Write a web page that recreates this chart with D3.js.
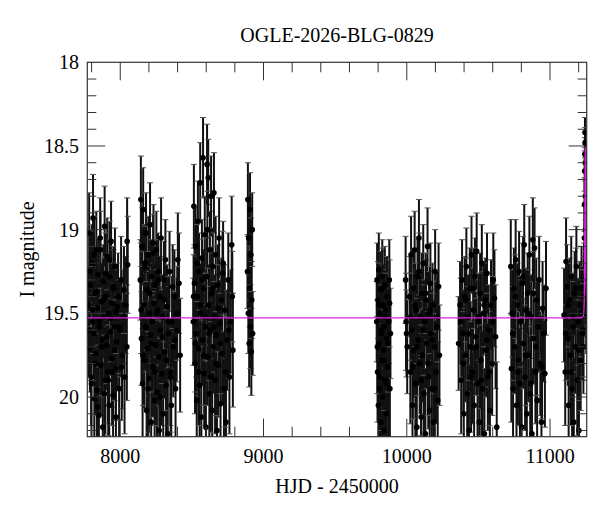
<!DOCTYPE html>
<html><head><meta charset="utf-8">
<script src="https://cdn.jsdelivr.net/npm/d3@7/dist/d3.min.js"></script>
<style>body{margin:0;background:#fff}svg{display:block}text{font-family:"Liberation Serif","Times New Roman",serif;fill:#000}</style>
</head><body><svg id="c" width="600" height="512"></svg>
<script>
const title = "OGLE-2026-BLG-0829";
const xLabel = "HJD - 2450000";
const yLabel = "I magnitude";
const xTicks = [8000, 9000, 10000, 11000];
const yTicks = [18, 18.5, 19, 19.5, 20];
const yTickLabels = ["18", "18.5", "19", "19.5", "20"];

// Observations: HJD-2450000, I mag, error
const hjd = [
7778,7783,7788,7792,7797,7801,7806,7810,7815,7819,7824,7828,7833,7837,7842,7846,7851,7855,7860,7864,7869,7873,7878,7882,7887,7891,7896,7900,7905,7909,7914,7918,7923,7927,7932,7936,7941,7945,7950,7954,7959,7963,7968,7972,7977,7985,7992,7998,8006,8014,8022,8030,8038,8046,8048,8052,
8140,8144,8148,8152,8156,8160,8164,8168,8172,8176,8180,8184,8188,8192,8196,8200,8204,8208,8212,8216,8220,8224,8228,8232,8236,8240,8244,8248,8252,8256,8260,8264,8268,8272,8276,8280,8285,8290,8295,8300,8305,8310,8315,8320,8326,8332,8338,8344,8350,8356,8362,8370,8378,8386,8394,8402,8410,8418,
8510,8514,8518,8522,8526,8530,8534,8538,8542,8546,8550,8554,8558,8562,8566,8570,8574,8578,8582,8586,8590,8594,8598,8602,8606,8610,8614,8618,8622,8626,8630,8634,8638,8642,8646,8650,8654,8658,8662,8666,8670,8675,8680,8685,8690,8695,8700,8706,8712,8718,8724,8730,8738,8746,8754,8762,8770,8778,8786,
8888,8891,8894,8897,8900,8903,8906,8909,8912,8915,8918,8921,8924,
9790,9793,9796,9799,9802,9805,9808,9811,9814,9817,9820,9823,9826,9829,9832,9835,9838,9841,9844,9847,9850,9853,9856,9859,9862,9866,9870,9874,9878,9882,9886,
9992,9995,9998,10003,10020,10025,10030,10035,10040,10045,10050,10055,10060,10065,10070,10075,10080,10085,10090,10095,10100,10105,10110,10115,10120,10125,10130,10135,10140,10145,10150,10155,10160,10165,10170,10175,10180,10186,10192,10198,10204,10210,10216,10222,10228,
10362,10372,10380,10386,10392,10398,10404,10410,10416,10422,10428,10434,10440,10446,10452,10458,10464,10470,10476,10482,10488,10494,10500,10506,10512,10518,10524,10530,10536,10542,10548,10554,10560,10566,10572,10580,10588,10596,10604,10612,10620,10628,
10726,10730,10736,10742,10748,10754,10760,10766,10772,10778,10784,10790,10796,10802,10808,10814,10820,10826,10832,10838,10844,10850,10856,10862,10868,10874,10880,10886,10892,10898,10904,10910,10916,10924,10932,10940,10948,10956,10964,10972,
11098,11106,11112,11118,11124,11130,11136,11142,11148,11154,11160,11166,11172,11178,11184,11190,11196,11202,11208,11214,11220,11226,11230,11233,11236,11238,11240,11241,11242,11243,11244,11245,11246,11247,11248,11249,11251,11253,11255,
7781,7790,7799,7808,7817,7826,7835,7844,7853,7862,7871,7880,7889,7898,7907,7916,7925,7934,7943,7952,7961,7970,7980,7995,8010,8026,
8146,8158,8170,8182,8194,8206,8218,8230,8242,8254,8266,8278,8292,8308,8322,8336,8352,8366,8382,8398,
8512,8524,8536,8548,8560,8572,8584,8596,8608,8620,8632,8644,8656,8668,8682,8698,8714,8734,8758,8782,
9795,9804,9813,9822,9831,9840,9849,9858,9868,9880,
10028,10042,10058,10072,10088,10102,10118,10132,10148,10162,10178,10195,10212,
10376,10395,10413,10431,10449,10467,10485,10503,10521,10539,10557,10576,10600,
10740,10758,10776,10794,10812,10830,10848,10866,10884,10902,10920,10944,
11110,11128,11146,11164,11182,11200,11218,11232
];
const mag = [
19.45,19.02,19.71,19.33,19.88,19.20,19.55,18.93,19.62,20.01,19.38,19.74,19.12,19.96,19.47,19.27,20.11,19.58,19.05,19.81,19.43,19.66,20.18,19.31,19.52,18.98,19.90,19.40,19.69,19.16,19.85,19.50,20.05,19.28,19.61,19.07,19.77,19.44,19.99,19.35,19.58,19.22,19.83,19.49,19.67,19.40,19.95,19.60,19.30,19.75,19.52,19.88,19.45,19.70,19.07,19.21,
19.30,18.82,19.65,19.10,19.92,18.88,19.45,19.78,19.20,19.58,19.02,20.08,19.36,19.71,19.15,19.89,19.50,18.97,19.63,20.15,19.28,19.55,19.82,19.08,19.44,20.02,19.33,19.69,19.12,19.97,19.48,19.25,19.76,20.20,19.40,19.60,19.05,19.86,19.52,20.10,19.30,19.73,19.18,19.93,19.46,20.22,19.62,19.25,19.85,20.05,19.55,19.70,19.40,19.95,19.60,19.18,19.32,19.75,
19.55,18.86,19.32,19.80,19.10,19.62,20.02,19.40,18.95,19.71,19.25,19.93,18.72,19.50,20.12,19.17,19.66,18.57,19.35,19.86,19.03,19.58,20.18,19.28,18.61,19.76,18.69,19.45,19.98,19.12,19.60,18.80,19.38,20.08,19.22,19.70,18.78,19.52,19.90,19.15,19.63,20.20,19.33,19.81,19.05,19.56,20.04,19.42,19.74,19.20,19.95,19.48,20.15,19.66,19.30,19.88,19.55,19.09,19.72,
19.25,18.82,19.50,19.05,19.68,19.35,18.88,19.58,19.15,19.73,19.42,19.00,19.62,
19.55,19.30,19.85,19.42,20.05,19.24,19.68,19.95,19.50,19.36,20.15,19.62,19.78,19.28,20.00,19.45,19.72,20.20,19.58,19.33,19.90,19.48,20.10,19.65,19.40,19.82,20.25,19.55,19.30,19.95,19.62,
19.30,19.55,19.62,19.70,19.40,19.85,19.15,19.60,20.05,19.35,19.72,19.12,19.92,19.48,20.18,19.28,19.66,19.05,19.80,19.52,20.12,19.38,19.75,19.20,19.98,19.55,20.22,19.42,19.68,19.10,19.88,19.50,20.08,19.32,19.62,19.95,19.45,20.15,19.70,19.25,19.85,19.58,20.02,19.34,19.75,
19.68,19.45,19.90,19.30,19.62,20.10,19.40,19.75,19.22,19.98,19.52,20.20,19.35,19.70,19.15,19.85,19.48,20.05,19.28,19.64,19.13,19.92,19.55,20.15,19.38,19.78,19.20,19.95,19.50,20.22,19.42,19.72,19.26,19.88,19.60,20.08,19.45,19.80,19.30,19.41,19.64,20.18,
19.22,19.83,19.50,19.95,19.35,19.70,19.18,20.05,19.45,19.78,19.25,19.92,19.55,20.18,19.32,19.68,19.09,19.88,19.48,20.10,19.38,19.75,19.15,19.98,19.52,20.22,19.06,19.65,19.11,19.85,19.42,20.02,19.58,19.30,19.80,20.15,19.47,19.62,19.86,19.35,
19.51,19.85,19.19,19.34,19.65,20.05,19.42,19.75,19.28,19.95,19.52,20.15,19.38,19.70,19.22,19.90,19.55,20.20,19.45,19.78,19.35,19.62,19.48,19.70,19.40,19.30,19.05,18.85,18.65,18.55,18.42,18.48,18.60,18.80,19.00,19.20,19.35,19.50,19.45,
19.60,19.25,19.92,19.48,19.15,19.80,19.37,20.06,19.55,19.12,19.70,19.42,19.98,19.26,19.64,19.90,19.18,19.53,19.85,19.34,19.72,20.12,19.46,19.58,19.82,19.36,
19.48,19.75,19.22,19.58,19.95,19.38,19.68,19.14,19.85,19.50,19.30,20.00,19.64,19.42,19.78,19.55,19.88,19.34,19.66,19.50,
19.40,19.68,19.20,19.85,19.45,19.30,19.75,19.52,19.00,19.62,19.88,19.35,19.58,19.80,19.47,19.68,19.26,19.85,19.60,19.40,
19.70,19.45,19.88,19.60,19.35,19.78,19.52,19.92,19.68,19.44,
19.52,19.82,19.45,19.70,19.25,19.90,19.60,19.38,19.80,19.48,19.66,19.95,19.52,
19.55,19.80,19.42,19.62,19.88,19.35,19.70,19.52,19.90,19.45,19.66,19.85,19.55,
19.62,19.40,19.85,19.55,19.28,19.75,19.50,19.92,19.38,19.70,19.58,19.82,
19.62,19.45,19.85,19.58,19.35,19.72,19.50,19.60
];
const err = [
.18,.20,.22,.17,.25,.19,.21,.22,.23,.30,.18,.24,.19,.31,.20,.18,.33,.22,.20,.26,.19,.24,.35,.18,.21,.20,.28,.20,.23,.19,.27,.21,.32,.18,.22,.20,.25,.20,.30,.19,.22,.19,.27,.21,.24,.22,.30,.24,.22,.28,.24,.30,.25,.28,.22,.25,
.20,.22,.24,.19,.29,.21,.20,.25,.19,.22,.20,.32,.19,.24,.19,.28,.21,.21,.23,.34,.18,.21,.26,.19,.20,.31,.19,.23,.19,.30,.20,.19,.25,.35,.20,.22,.20,.27,.21,.33,.19,.24,.20,.29,.21,.35,.24,.20,.28,.32,.23,.26,.24,.30,.27,.24,.26,.30,
.22,.21,.19,.26,.19,.22,.31,.20,.20,.24,.19,.29,.20,.21,.34,.19,.23,.20,.19,.27,.19,.22,.35,.19,.20,.25,.19,.20,.30,.19,.22,.20,.20,.32,.19,.24,.20,.21,.28,.19,.23,.35,.20,.27,.20,.22,.32,.21,.25,.21,.30,.23,.34,.26,.24,.30,.27,.25,.30,
.18,.18,.20,.18,.22,.19,.18,.21,.18,.22,.19,.18,.21,
.20,.18,.26,.19,.30,.18,.22,.28,.20,.19,.33,.21,.24,.18,.29,.20,.23,.34,.21,.19,.27,.20,.32,.22,.20,.25,.35,.21,.20,.29,.23,
.22,.25,.22,.24,.20,.27,.19,.22,.31,.19,.24,.19,.28,.20,.34,.19,.23,.19,.26,.21,.33,.20,.24,.19,.30,.21,.35,.20,.23,.19,.27,.21,.32,.20,.22,.29,.21,.33,.24,.21,.27,.23,.31,.22,.26,
.24,.22,.28,.20,.22,.33,.20,.24,.19,.30,.21,.35,.20,.23,.19,.27,.21,.32,.19,.23,.19,.29,.21,.34,.20,.25,.19,.30,.21,.35,.21,.24,.20,.28,.23,.32,.23,.27,.24,.25,.27,.35,
.24,.28,.22,.30,.20,.24,.20,.32,.21,.25,.20,.29,.21,.35,.20,.23,.20,.28,.21,.33,.20,.24,.19,.30,.21,.35,.21,.23,.20,.27,.21,.31,.23,.22,.27,.34,.24,.25,.28,.24,
.24,.28,.22,.21,.24,.32,.21,.25,.20,.30,.22,.34,.21,.24,.20,.29,.22,.35,.22,.26,.21,.24,.22,.24,.20,.18,.15,.12,.08,.06,.05,.05,.07,.10,.13,.15,.18,.20,.22,
.24,.20,.30,.22,.19,.27,.21,.33,.23,.19,.25,.21,.31,.20,.24,.29,.19,.22,.28,.20,.26,.34,.22,.24,.28,.22,
.22,.26,.20,.23,.30,.21,.25,.19,.28,.22,.20,.31,.24,.21,.26,.23,.29,.21,.25,.24,
.21,.25,.19,.28,.21,.20,.26,.22,.19,.24,.29,.21,.23,.27,.22,.26,.21,.29,.25,.23,
.24,.21,.28,.23,.20,.26,.22,.30,.25,.22,
.22,.27,.21,.25,.19,.29,.23,.20,.27,.22,.24,.30,.23,
.22,.27,.21,.24,.29,.20,.25,.22,.29,.21,.24,.28,.23,
.24,.21,.28,.23,.20,.26,.22,.30,.21,.25,.23,.27,
.24,.21,.28,.23,.20,.26,.22,.24
];

// Model light curve (magenta)
const modelT = [7770, 11200, 11225, 11232, 11236, 11239, 11241, 11243, 11244.5, 11245.5, 11247, 11249, 11252, 11256];
const modelM = [19.527, 19.527, 19.524, 19.515, 19.49, 19.42, 19.25, 18.95, 18.70, 18.51, 18.75, 19.05, 19.30, 19.42];

const L = 87.3, R = 586.7, T = 62.3, B = 436.7;
const svg = d3.select("#c");
const x = d3.scaleLinear().domain([7770, 11256]).range([L, R]);
const y = d3.scaleLinear().domain([18, 20.237]).range([T, B]);

svg.append("defs").append("clipPath").attr("id", "clip")
  .append("rect").attr("x", L).attr("y", T).attr("width", R - L).attr("height", B - T);

const data = hjd.map((t, i) => ({t, m: mag[i], e: err[i]}));
const g = svg.append("g").attr("clip-path", "url(#clip)");

const eb = g.append("g").attr("fill", "none");
data.forEach(d => {
  const cx = x(d.t), y1 = y(d.m - d.e - 0.04), y2 = y(d.m + d.e + 0.04);
  eb.append("line").attr("x1", cx).attr("x2", cx).attr("y1", y1).attr("y2", y2).attr("stroke", "#111").attr("stroke-width", 2);
  eb.append("line").attr("x1", cx - 3).attr("x2", cx + 3).attr("y1", y1).attr("y2", y1).attr("stroke", "#555").attr("stroke-width", 1);
  eb.append("line").attr("x1", cx - 3).attr("x2", cx + 3).attr("y1", y2).attr("y2", y2).attr("stroke", "#555").attr("stroke-width", 1);
});
g.append("g").selectAll("circle").data(data).join("circle")
  .attr("cx", d => x(d.t)).attr("cy", d => y(d.m)).attr("r", 2.8).attr("fill", "#000");

const model = modelT.map((t, i) => [t, modelM[i]]);
g.append("path").datum(model).attr("fill", "none").attr("stroke", "#e020e0").attr("stroke-width", 1.3)
  .attr("d", d3.line().x(d => x(d[0])).y(d => y(d[1])).curve(d3.curveMonotoneX));

// frame
svg.append("rect").attr("x", L).attr("y", T).attr("width", R - L).attr("height", B - T)
  .attr("fill", "none").attr("stroke", "#333").attr("stroke-width", 1.2);

// ticks
const tk = svg.append("g").attr("stroke", "#333").attr("stroke-width", 1);
const xMinor = d3.range(7800, 11256, 200);
xMinor.forEach(v => {
  const major = v % 1000 === 0;
  const len = major ? 18 : 10;
  const px = x(v);
  tk.append("line").attr("x1", px).attr("x2", px).attr("y1", B).attr("y2", B - len);
  tk.append("line").attr("x1", px).attr("x2", px).attr("y1", T).attr("y2", T + len);
});
const yMinor = d3.range(18.1, 20.237, 0.1);
yMinor.forEach(v => {
  const major = Math.abs(v * 2 - Math.round(v * 2)) < 1e-6;
  const len = major ? 18 : 9;
  const py = y(v);
  tk.append("line").attr("x1", L).attr("x2", L + len).attr("y1", py).attr("y2", py);
  tk.append("line").attr("x1", R).attr("x2", R - len).attr("y1", py).attr("y2", py);
});

// labels
svg.append("g").selectAll("text").data(xTicks).join("text")
  .attr("x", d => x(d)).attr("y", 463).attr("text-anchor", "middle").attr("font-size", 20).text(d => d);
svg.append("g").selectAll("text").data(yTicks).join("text")
  .attr("x", 79).attr("y", d => y(d)).attr("dy", "0.35em").attr("text-anchor", "end").attr("font-size", 20)
  .text((d, i) => yTickLabels[i]);
svg.append("text").attr("x", (L + R) / 2).attr("y", 42).attr("text-anchor", "middle").attr("font-size", 20).text(title);
svg.append("text").attr("x", (L + R) / 2).attr("y", 493).attr("text-anchor", "middle").attr("font-size", 20).text(xLabel);
svg.append("text").attr("transform", `translate(34,${(T + B) / 2}) rotate(-90)`).attr("text-anchor", "middle").attr("font-size", 20).text(yLabel);
</script></body></html>
